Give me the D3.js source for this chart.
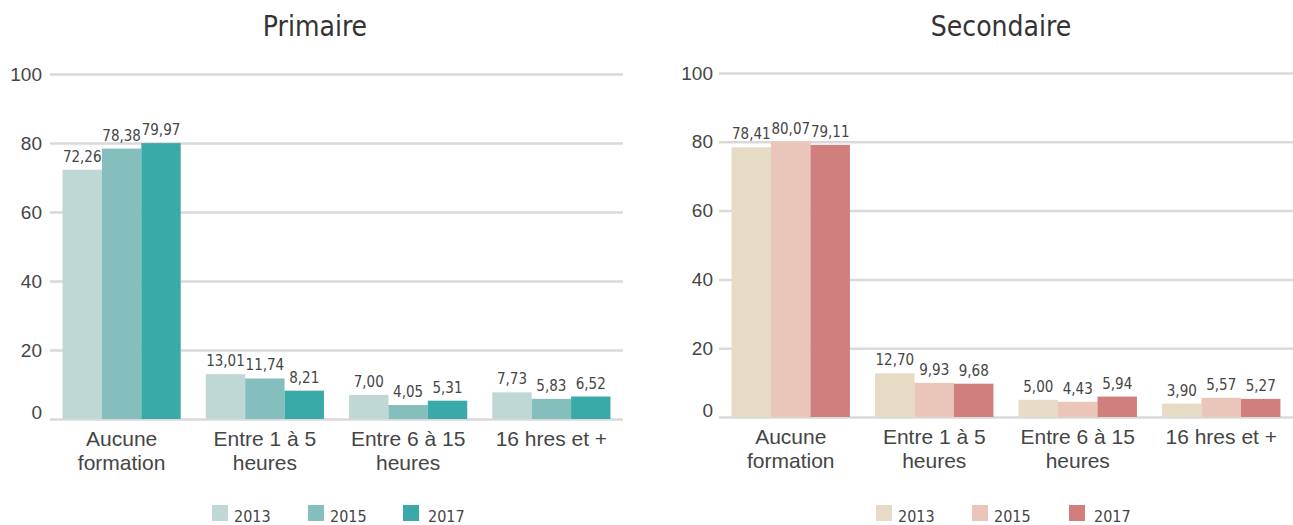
<!DOCTYPE html>
<html>
<head>
<meta charset="utf-8">
<script src="https://cdn.jsdelivr.net/npm/d3@7"></script>
<style>
  body { margin: 0; background: #fff; }
  svg { display: block; font-family: "Liberation Sans Narrow", "DejaVu Sans Condensed", "Roboto", sans-serif; }
</style>
</head>
<body>
<svg id="chart" width="1293" height="525"></svg>
<script>
const categories = ["Aucune\nformation", "Entre 1 à 5\nheures", "Entre 6 à 15\nheures", "16 hres et +"];
const years = ["2013", "2015", "2017"];
const yTicks = [0, 20, 40, 60, 80, 100];

const primaire2013 = [72.26, 13.01, 7.00, 7.73];
const primaire2015 = [78.38, 11.74, 4.05, 5.83];
const primaire2017 = [79.97, 8.21, 5.31, 6.52];

const secondaire2013 = [78.41, 12.70, 5.00, 3.90];
const secondaire2015 = [80.07, 9.93, 4.43, 5.57];
const secondaire2017 = [79.11, 9.68, 5.94, 5.27];

const primaireColors = ["#c0d8d5", "#84bfbe", "#3aaaa9"];
const secondaireColors = ["#e6dbc4", "#e9c6b9", "#d17e7e"];

const panels = [
  { title: "Primaire", series: [primaire2013, primaire2015, primaire2017], colors: primaireColors,
    x0: 50, x1: 623, yBottom: 419, yTop: 74, titleX: 315, labelX: 42, legendX: [212, 308, 403] },
  { title: "Secondaire", series: [secondaire2013, secondaire2015, secondaire2017], colors: secondaireColors,
    x0: 719, x1: 1293, yBottom: 417, yTop: 73, titleX: 1001, labelX: 713, legendX: [876, 972, 1069] }
];

const svg = d3.select("#chart");
const fmt = v => d3.format(".2f")(v).replace(".", ",");
const textColor = "#454545";

panels.forEach(p => {
  const g = svg.append("g");
  const x = d3.scaleBand().domain(categories).range([p.x0, p.x1]).paddingInner(0.175).paddingOuter(0.0875);
  const xs = d3.scaleBand().domain(years).range([0, x.bandwidth()]).padding(0);
  const y = d3.scaleLinear().domain([0, 100]).range([p.yBottom, p.yTop]);

  // title
  g.append("text").attr("x", p.titleX).attr("y", 36).attr("text-anchor", "middle")
    .attr("font-size", 28).attr("fill", "#333").text(p.title);

  // gridlines + y labels via axis
  const yAxis = g.append("g").attr("transform", `translate(${p.x0},0)`)
    .call(d3.axisLeft(y).tickValues(yTicks).tickSize(-(p.x1 - p.x0)).tickPadding(p.x0 - p.labelX));
  yAxis.select(".domain").remove();
  yAxis.selectAll(".tick line").attr("stroke", "#d9d9d9").attr("stroke-width", 2.5);
  yAxis.selectAll(".tick text").attr("font-size", 19).attr("fill", textColor)
    .attr("font-family", "inherit")
    .attr("dy", d => d === 0 ? "-0.05em" : "0.32em");

  // bars
  const groups = g.selectAll(".grp").data(categories).join("g")
    .attr("transform", d => `translate(${x(d)},0)`);
  years.forEach((yr, i) => {
    groups.append("rect")
      .attr("x", xs(yr)).attr("width", xs.bandwidth())
      .attr("y", (d, j) => y(p.series[i][j]))
      .attr("height", (d, j) => y(0) - y(p.series[i][j]))
      .attr("fill", p.colors[i]);
    groups.append("text")
      .attr("x", xs(yr) + xs.bandwidth() / 2)
      .attr("y", (d, j) => y(p.series[i][j]) - 8)
      .attr("text-anchor", "middle").attr("font-size", 15).attr("fill", textColor)
      .text((d, j) => fmt(p.series[i][j]));
  });

  // category labels
  const xAxis = g.append("g").attr("transform", `translate(0,${p.yBottom})`)
    .call(d3.axisBottom(x).tickSize(0).tickFormat(""));
  xAxis.select(".domain").remove();
  xAxis.selectAll(".tick").each(function(d) {
    const lines = d.split("\n");
    const t = d3.select(this).append("text").attr("text-anchor", "middle")
      .attr("font-size", 21).attr("fill", textColor);
    lines.forEach((ln, k) => {
      t.append("tspan").attr("x", 0).attr("y", 27 + k * 24).text(ln);
    });
  });

  // legend
  years.forEach((yr, i) => {
    const lg = g.append("g").attr("transform", `translate(${p.legendX[i]},505)`);
    lg.append("rect").attr("width", 16).attr("height", 16).attr("fill", p.colors[i]);
    lg.append("text").attr("x", i === 2 ? 25 : 22).attr("y", 17).attr("font-size", 16)
      .attr("fill", textColor).text(yr);
  });
});
</script>
</body>
</html>
